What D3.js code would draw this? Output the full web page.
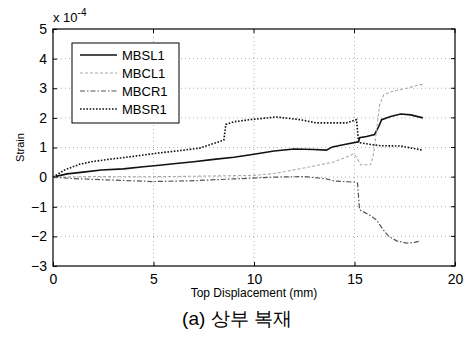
<!DOCTYPE html>
<html>
<head>
<meta charset="utf-8">
<style>
  body { margin: 0; background: #fff; }
  text { font-family: "Liberation Sans", Arial, sans-serif; }
</style>
</head>
<body>
<div id="chart"></div>
<script src="https://cdn.jsdelivr.net/npm/d3@7/dist/d3.min.js"></script>
<script>
// ---------------- data (strain in units of 1e-4) ----------------
var xTicks = [0, 5, 10, 15, 20];
var yTicks = [-3, -2, -1, 0, 1, 2, 3, 4, 5];
var seriesNames = ["MBSL1", "MBCL1", "MBCR1", "MBSR1"];

var mbsl1 = [[0,0],[0.7,0.11],[1.5,0.17],[2.4,0.24],[3.5,0.28],[4.5,0.35],[5.3,0.4],[6,0.45],[7,0.52],[8,0.6],[9,0.67],[10,0.77],[11,0.88],[12,0.95],[13,0.93],[13.6,0.91],[13.9,1.02],[14.5,1.1],[15.2,1.19],[15.25,1.33],[15.6,1.37],[16.0,1.44],[16.2,1.7],[16.35,1.94],[16.8,2.05],[17.3,2.13],[17.8,2.1],[18.4,2.0]];
var mbcl1 = [[0,0],[2,0.02],[4,0.01],[6,0.02],[8,0.04],[10,0.06],[11,0.12],[11.8,0.22],[12.8,0.35],[13.9,0.5],[14.5,0.65],[14.95,0.78],[15.1,0.68],[15.3,0.42],[15.8,0.42],[15.95,0.78],[16.1,1.6],[16.25,2.44],[16.45,2.78],[16.9,2.9],[17.6,3.0],[18.3,3.13],[18.4,3.12]];
var mbcr1 = [[0,0],[1,-0.05],[3,-0.1],[5,-0.15],[7,-0.12],[9,-0.06],[11,0.0],[12.5,0.02],[13.6,-0.06],[14.0,-0.13],[15.0,-0.17],[15.15,-0.2],[15.25,-1.1],[15.8,-1.3],[16.1,-1.45],[16.4,-1.75],[16.7,-2.0],[17.1,-2.15],[17.6,-2.23],[18.0,-2.2],[18.3,-2.15]];
var mbsr1 = [[0,0],[0.6,0.25],[1.35,0.44],[2,0.53],[3,0.62],[4,0.7],[5.3,0.82],[6,0.87],[7.3,0.98],[8.5,1.25],[8.6,1.78],[9.0,1.87],[9.8,1.94],[11.1,2.03],[12.3,1.94],[13.1,1.83],[14.6,1.83],[15.1,1.94],[15.2,1.17],[15.8,1.1],[16.3,1.06],[17.3,1.05],[18.4,0.91]];

var allSeries = [mbsl1, mbcl1, mbcr1, mbsr1];
var styles = [
  {stroke: "#111", width: 1.6, dash: null},
  {stroke: "#aaa", width: 1.1, dash: "3,2"},
  {stroke: "#555", width: 1.2, dash: "5,2,1.5,2"},
  {stroke: "#111", width: 1.6, dash: "1.6,1.6"}
];

// ---------------- layout ----------------
var W = 470, H = 344;
var margin = {top: 29, right: 15, bottom: 78, left: 53};
var width = W - margin.left - margin.right,
    height = H - margin.top - margin.bottom;

var x = d3.scaleLinear().domain([0, 20]).range([0, width]);
var y = d3.scaleLinear().domain([-3, 5]).range([height, 0]);

var svg = d3.select("#chart").append("svg")
  .attr("width", W).attr("height", H);

var g = svg.append("g")
  .attr("transform", "translate(" + margin.left + "," + margin.top + ")");

// grid
g.selectAll(".gx").data(xTicks.slice(1, -1)).enter().append("line")
  .attr("x1", function(d){ return x(d); }).attr("x2", function(d){ return x(d); })
  .attr("y1", 0).attr("y2", height)
  .attr("stroke", "#999").attr("stroke-width", 0.8).attr("stroke-dasharray", "1,3");
g.selectAll(".gy").data(yTicks.slice(1, -1)).enter().append("line")
  .attr("y1", function(d){ return y(d); }).attr("y2", function(d){ return y(d); })
  .attr("x1", 0).attr("x2", width)
  .attr("stroke", "#999").attr("stroke-width", 0.8).attr("stroke-dasharray", "1,3");

// axes
var xAxis = d3.axisBottom(x).tickValues(xTicks).tickSizeInner(-4).tickSizeOuter(0).tickPadding(8);
var yAxis = d3.axisLeft(y).tickValues(yTicks).tickSizeInner(-4).tickSizeOuter(0).tickPadding(6);

var gx = g.append("g").attr("transform", "translate(0," + height + ")").call(xAxis);
var gy = g.append("g").call(yAxis);
[gx, gy].forEach(function(a){
  a.select(".domain").remove();
  a.selectAll("line").attr("stroke", "#000");
  a.selectAll("text").attr("font-size", 14).attr("fill", "#000")
    .attr("font-family", "'Liberation Sans', Arial, sans-serif");
});

// top/right ticks
g.selectAll(".tt").data(xTicks).enter().append("line")
  .attr("x1", function(d){ return x(d); }).attr("x2", function(d){ return x(d); })
  .attr("y1", 0).attr("y2", 4).attr("stroke", "#000");
g.selectAll(".rt").data(yTicks).enter().append("line")
  .attr("y1", function(d){ return y(d); }).attr("y2", function(d){ return y(d); })
  .attr("x1", width).attr("x2", width - 4).attr("stroke", "#000");

// box
g.append("rect").attr("width", width).attr("height", height)
  .attr("fill", "none").attr("stroke", "#000").attr("stroke-width", 1.2);

// series
var line = d3.line().x(function(d){ return x(d[0]); }).y(function(d){ return y(d[1]); });
allSeries.forEach(function(s, i){
  g.append("path").datum(s)
    .attr("d", line)
    .attr("fill", "none")
    .attr("stroke", styles[i].stroke)
    .attr("stroke-width", styles[i].width)
    .attr("stroke-dasharray", styles[i].dash);
});

// legend
var leg = svg.append("g").attr("transform", "translate(72,43)");
leg.append("rect").attr("width", 107).attr("height", 80)
  .attr("fill", "#fff").attr("stroke", "#000").attr("stroke-width", 1);
seriesNames.forEach(function(n, i){
  var yy = 12 + i * 18;
  leg.append("line").attr("x1", 8).attr("x2", 45).attr("y1", yy).attr("y2", yy)
    .attr("stroke", styles[i].stroke).attr("stroke-width", styles[i].width)
    .attr("stroke-dasharray", styles[i].dash);
  leg.append("text").attr("x", 50).attr("y", yy + 5).attr("font-size", 13).text(n);
});

// exponent
var ex = svg.append("text").attr("x", 53).attr("y", 22).attr("font-size", 13);
ex.append("tspan").text("x 10");
ex.append("tspan").attr("dy", -6).attr("font-size", 10).text("-4");

// axis labels
svg.append("text")
  .attr("transform", "translate(24," + (margin.top + height / 2) + ") rotate(-90)")
  .attr("text-anchor", "middle").attr("font-size", 11).text("Strain");
svg.append("text").attr("x", margin.left + width / 2).attr("y", 297)
  .attr("text-anchor", "middle").attr("font-size", 12).text("Top Displacement (mm)");
svg.append("text").attr("x", 237).attr("y", 325)
  .attr("text-anchor", "middle").attr("font-size", 19)
  .attr("font-family", "'Noto Sans CJK KR', sans-serif").text("(a) 상부 복재");
</script>
</body>
</html>
